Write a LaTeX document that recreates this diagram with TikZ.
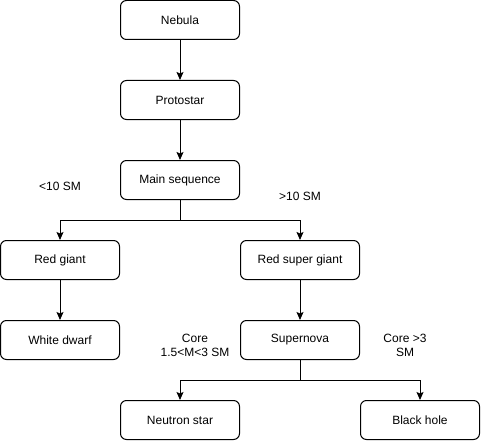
\documentclass[tikz,border=0pt]{standalone}
\usepackage{fontspec}
\setmainfont{Liberation Sans}
\usetikzlibrary{arrows.meta}
\begin{document}
\begin{tikzpicture}[x=1pt,y=-1pt,
  box/.style={draw=black,line width=1pt,rounded corners=6pt,fill=white,minimum width=119pt,minimum height=39pt,inner sep=0pt,font=\fontsize{12}{14}\selectfont},
  lbl/.style={align=center,inner sep=0pt,font=\fontsize{12}{14}\selectfont},
  arr/.style={line width=1pt,-{Stealth[length=8pt,width=7pt,inset=1.5pt]}},
  ln/.style={line width=1pt}]
\useasboundingbox (0,0) rectangle (481,441);
\node[box] (neb) at (180,20) {Nebula};
\node[box] (pro) at (180,100) {Protostar};
\node[box] (ms) at (180,180) {Main sequence};
\node[box] (rg) at (60,260) {Red giant};
\node[box] (rsg) at (300,260) {Red super giant};
\node[box] (wd) at (60,340) {White dwarf};
\node[box] (sn) at (300,340) {Supernova};
\node[box] (ns) at (180,420) {Neutron star};
\node[box] (bh) at (420,420) {Black hole};
\node[lbl] (l1) at (60,186) {<10 SM};
\node[lbl] (l2) at (300,196) {>10 SM};
\node[lbl] (l3) at (195,345) {Core\\1.5<M<3 SM};
\node[lbl] (l4) at (405,345) {Core >3\\SM};
\coordinate (j1) at (180,220);
\coordinate (j2) at (300,380);
\draw[arr] (neb) -- (pro);
\draw[arr] (pro) -- (ms);
\draw[ln] (ms.south) -- (j1);
\draw[arr] (j1) -| (rg.north);
\draw[arr] (j1) -| (rsg.north);
\draw[arr] (rg) -- (wd);
\draw[arr] (rsg) -- (sn);
\draw[ln] (sn.south) -- (j2);
\draw[arr] (j2) -| (ns.north);
\draw[arr] (j2) -| (bh.north);
\end{tikzpicture}
\end{document}
